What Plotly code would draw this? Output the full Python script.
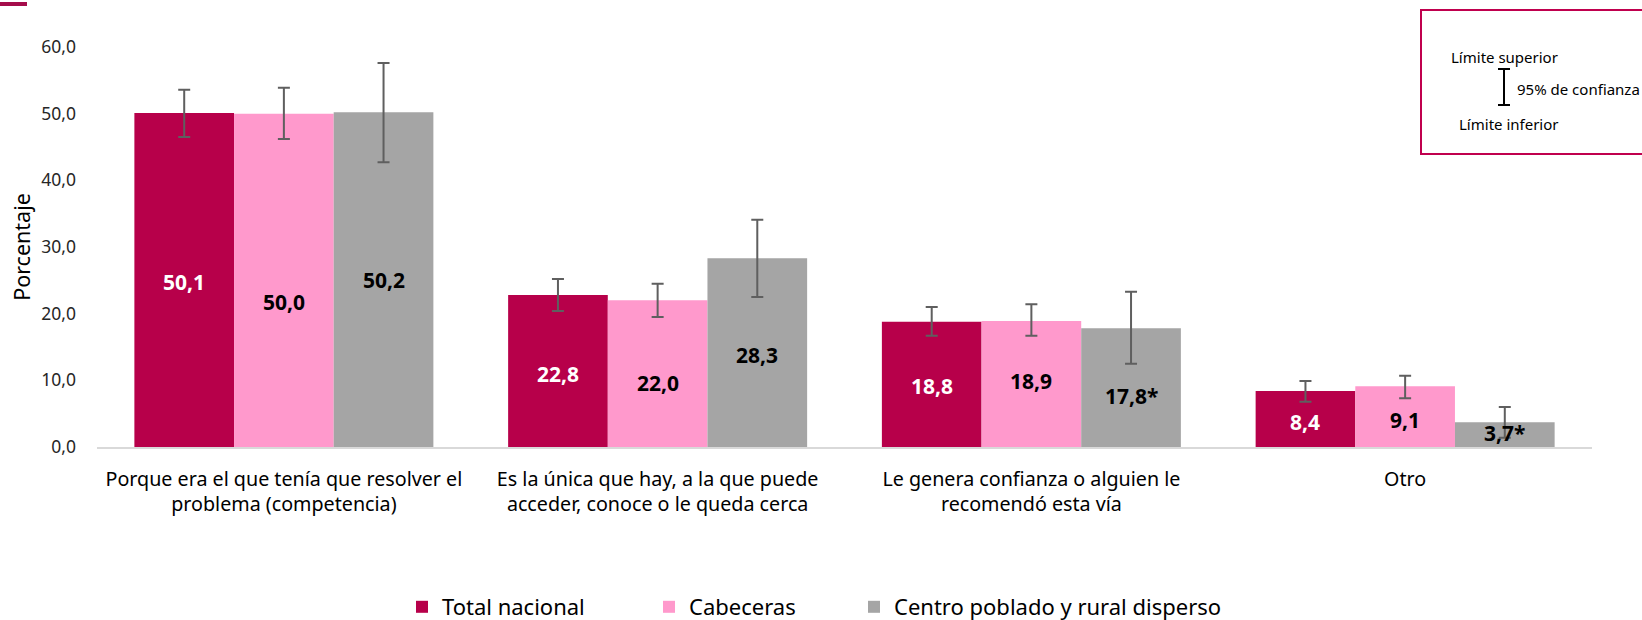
import plotly.graph_objects as go

# ---------------- data ----------------
categories = [
    "Porque era el que tenía que resolver el<br>problema (competencia)",
    "Es la única que hay, a la que puede<br>acceder, conoce o le queda cerca",
    "Le genera confianza o alguien le<br>recomendó esta vía",
    "Otro",
]
series_names = ["Total nacional", "Cabeceras", "Centro poblado y rural disperso"]

total_vals = [50.1, 22.8, 18.8, 8.4]
total_upper = [53.6, 25.2, 21.0, 9.9]
total_lower = [46.5, 20.4, 16.7, 6.8]

cab_vals = [50.0, 22.0, 18.9, 9.1]
cab_upper = [53.9, 24.5, 21.4, 10.7]
cab_lower = [46.2, 19.5, 16.7, 7.3]

rural_vals = [50.2, 28.3, 17.8, 3.7]
rural_upper = [57.6, 34.1, 23.3, 6.0]
rural_lower = [42.7, 22.5, 12.5, 1.4]
rural_flags = ["", "", "*", "*"]

y_ticks = [0, 10, 20, 30, 40, 50, 60]

# ---------------- style ----------------
FONT = "Noto Sans"
colors = ["#B7004A", "#FF99CC", "#A5A5A5"]
text_colors = ["white", "black", "black"]
ERR_COLOR = "#5F5F5F"
# vertical nudges (px) of the value labels, as placed in the original
label_shift = [
    [-2, -3, -2, -3],
    [-22, -9, 3, -3],
    [0, -2, -8, 2],
]

W, H = 1642, 620
L, R, T, B = 97, 50, 47, 173
PW, PH = W - L - R, H - T - B
BARGAP = 0.2
N_SERIES = 3


def px_x(px):
    return (px - L) / PW


def px_y(py):
    return (H - B - py) / PH


def fmt(v, flag=""):
    return f"{v:.1f}".replace(".", ",") + flag


legend_ids = ["legend", "legend2", "legend3"]
legend_left = [402, 649, 854]

fig = go.Figure()
series = [
    (total_vals, total_upper, total_lower, [""] * 4),
    (cab_vals, cab_upper, cab_lower, [""] * 4),
    (rural_vals, rural_upper, rural_lower, rural_flags),
]
annotations = []
bar_w = (1 - BARGAP) / N_SERIES
for i, (vals, up, lo, flags) in enumerate(series):
    fig.add_trace(go.Bar(
        x=categories,
        y=vals,
        name=series_names[i],
        legend=legend_ids[i],
        marker=dict(color=colors[i], line=dict(width=0)),
        error_y=dict(
            type="data",
            symmetric=False,
            array=[u - v for u, v in zip(up, vals)],
            arrayminus=[v - l for v, l in zip(vals, lo)],
            color=ERR_COLOR,
            thickness=2,
            width=6,
        ),
        hoverinfo="skip",
    ))
    for j, (v, f) in enumerate(zip(vals, flags)):
        annotations.append(dict(
            text=fmt(v, f), xref="x", yref="y",
            x=j + (i - (N_SERIES - 1) / 2) * bar_w, y=v / 2,
            yshift=label_shift[i][j],
            xanchor="center", yanchor="middle", showarrow=False,
            font=dict(family=FONT, size=21, color=text_colors[i], weight="bold"),
        ))

# decorative legend box for confidence interval
shapes = [
    dict(type="rect", xref="paper", yref="paper",
         x0=px_x(1421), x1=px_x(1660), y0=px_y(154), y1=px_y(10),
         line=dict(color="#C0004E", width=2), fillcolor="white", layer="above"),
    dict(type="line", xref="paper", yref="paper",
         x0=px_x(1504), x1=px_x(1504), y0=px_y(69), y1=px_y(105),
         line=dict(color="black", width=2)),
    dict(type="line", xref="paper", yref="paper",
         x0=px_x(1498), x1=px_x(1510), y0=px_y(69), y1=px_y(69),
         line=dict(color="black", width=2)),
    dict(type="line", xref="paper", yref="paper",
         x0=px_x(1498), x1=px_x(1510), y0=px_y(105), y1=px_y(105),
         line=dict(color="black", width=2)),
    dict(type="line", xref="paper", yref="paper",
         x0=px_x(0), x1=px_x(27), y0=px_y(4), y1=px_y(4),
         line=dict(color="#A50D4B", width=4)),
]
annotations += [
    dict(text="Límite superior", xref="paper", yref="paper",
         x=px_x(1449), y=px_y(57), xanchor="left", yanchor="middle",
         showarrow=False, font=dict(family=FONT, size=15, color="black")),
    dict(text="95% de confianza", xref="paper", yref="paper",
         x=px_x(1515), y=px_y(89), xanchor="left", yanchor="middle",
         showarrow=False, font=dict(family=FONT, size=15, color="black")),
    dict(text="Límite inferior", xref="paper", yref="paper",
         x=px_x(1457), y=px_y(124), xanchor="left", yanchor="middle",
         showarrow=False, font=dict(family=FONT, size=15, color="black")),
]

legend_common = dict(
    orientation="h", xanchor="left", y=px_y(607), yanchor="middle",
    font=dict(family=FONT, size=22, color="black"),
    bgcolor="rgba(0,0,0,0)", borderwidth=0, itemwidth=30,
)

fig.update_layout(
    width=W, height=H,
    margin=dict(l=L, r=R, t=T, b=B, autoexpand=False),
    paper_bgcolor="white", plot_bgcolor="white",
    barmode="group", bargap=BARGAP, bargroupgap=0,
    separators=",.",
    font=dict(family=FONT, color="#262626"),
    showlegend=True,
    legend=dict(x=px_x(legend_left[0]), **legend_common),
    legend2=dict(x=px_x(legend_left[1]), **legend_common),
    legend3=dict(x=px_x(legend_left[2]), **legend_common),
    shapes=shapes,
    annotations=annotations,
)
fig.update_xaxes(
    showline=True, linecolor="#D9D9D9", linewidth=2,
    showgrid=False, ticks="", ticklabelstandoff=13,
    tickfont=dict(family=FONT, size=19.7, color="black"),
)
fig.update_yaxes(
    range=[0, 60], tickvals=y_ticks, tickformat=".1f",
    showline=False, showgrid=False, zeroline=False, ticks="",
    ticklabelstandoff=20,
    tickfont=dict(family=FONT, size=17.5, color="#262626"),
    title=dict(text="Porcentaje", standoff=4,
               font=dict(family=FONT, size=21.5, color="black")),
)

fig.write_html(
    "out.html",
    config={"displayModeBar": False},
    post_script="document.body.style.margin='0px';document.body.style.overflow='hidden';",
)
